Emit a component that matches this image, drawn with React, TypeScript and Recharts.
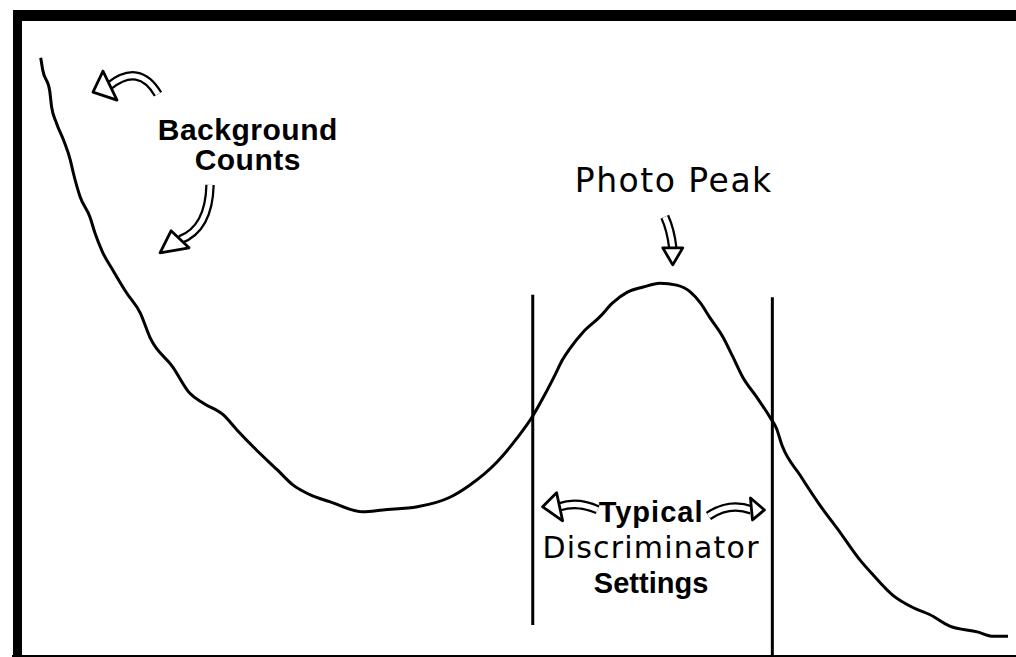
import React from 'react';
import { ComposedChart, Line, XAxis, YAxis, ReferenceLine, ReferenceDot } from 'recharts';

// pulse height spectrum (channel 0-1000, counts 0-1000)
const channel = [
  19, 21, 28, 30, 35, 42, 49, 52, 59, 69, 74, 82, 92, 106, 120, 130, 153, 170, 184, 204,
  218, 238, 259, 275, 292, 312, 346, 366, 401, 434, 454, 482, 502, 518, 530, 541, 548, 556,
  569, 586, 599, 614, 630, 647, 664, 678, 688, 698, 711, 721, 731, 745, 759, 765, 771, 789,
  809, 830, 850, 863, 883, 904, 921, 941, 969, 985, 1000,
];
const counts = [
  942, 923, 891, 865, 839, 813, 781, 761, 723, 691, 666, 635, 608, 572, 540, 501, 455, 414, 398, 380,
  356, 324, 293, 269, 254, 243, 227, 230, 235, 250, 269, 306, 343, 378, 411, 444, 466, 485,
  510, 534, 556, 573, 581, 587, 584, 573, 556, 532, 502, 471, 439, 408, 375, 359, 331, 285,
  238, 194, 151, 128, 96, 76, 65, 47, 38, 31, 31,
];

// discriminator window
const lowerLevel = 518;
const upperLevel = 761;
const lowerSpan = [49, 569];
const upperSpan = [0, 565];

const data = channel.map((c, i) => ({ channel: c, counts: counts[i] }));

const BOLD = '"Liberation Sans", Arial, sans-serif';
const PLAIN = '"DejaVu Sans", sans-serif';

// hollow hand-drawn style arrows, offsets relative to the tip
const arrows = [
  { ch: 72, cnt: 888, shaft: 'M16,-6 Q46,-30 65,2', head: '10,-21 0,0 24,8' },
  { ch: 140, cnt: 635, shaft: 'M20,-13 Q49,-24 50,-68', head: '11,-22 0,0 29,-5' },
  { ch: 660, cnt: 616, shaft: 'M0,-17 Q-2,-35 -8,-48', head: '-10,-17 0,0 10,-17' },
  { ch: 528, cnt: 235, shaft: 'M17,0 Q35,-6 55,3', head: '14,-14 0,0 20,14' },
  { ch: 753, cnt: 230, shaft: 'M-13,0 Q-35,-8 -56,6', head: '-14,-12 0,0 -12,10' },
];

const arrowShape = (shaft: string, head: string) => (p: any) => (
  <g transform={`translate(${p.cx},${p.cy})`}>
    <path d={shaft} fill="none" stroke="#000" strokeWidth={9.5} />
    <path d={shaft} fill="none" stroke="#fff" strokeWidth={5} />
    <polygon points={head} fill="#fff" stroke="#000" strokeWidth={2.8} strokeLinejoin="round" />
  </g>
);

type Row = { t: string; font: string; bold: boolean; dy: number; size: number; ls: number };

const textShape = (lines: Row[]) => (p: any) => (
  <g>
    {lines.map((l, i) => (
      <text
        key={i}
        x={p.cx}
        y={p.cy + l.dy}
        textAnchor="middle"
        fontFamily={l.font}
        fontWeight={l.bold ? 700 : 400}
        fontSize={l.size}
        letterSpacing={l.ls}
        fill="#000"
      >
        {l.t}
      </text>
    ))}
  </g>
);

export default function App() {
  return (
    <div style={{ position: 'absolute', left: 0, top: 0, width: 1016, height: 657, background: '#fff' }}>
      <div style={{ position: 'absolute', left: 13, top: 10, width: 1003, height: 11, background: '#000' }} />
      <div style={{ position: 'absolute', left: 13, top: 10, width: 9, height: 646, background: '#000' }} />
      <div style={{ position: 'absolute', left: 12, top: 655, width: 1004, height: 2, background: '#000' }} />
      <div style={{ position: 'absolute', left: 22, top: 21 }}>
        <ComposedChart width={994} height={635} data={data} margin={{ top: 0, right: 8, bottom: 0, left: 0 }}>
          <XAxis type="number" dataKey="channel" domain={[0, 1000]} hide />
          <YAxis type="number" domain={[0, 1000]} hide />
          <ReferenceLine
            segment={[{ x: lowerLevel, y: lowerSpan[0] }, { x: lowerLevel, y: lowerSpan[1] }]}
            stroke="#000"
            strokeWidth={3}
          />
          <ReferenceLine
            segment={[{ x: upperLevel, y: upperSpan[0] }, { x: upperLevel, y: upperSpan[1] }]}
            stroke="#000"
            strokeWidth={3}
          />
          <Line
            type="monotone"
            dataKey="counts"
            stroke="#000"
            strokeWidth={3}
            dot={false}
            isAnimationActive={false}
          />
          {arrows.map((a, i) => (
            <ReferenceDot key={i} x={a.ch} y={a.cnt} r={0} shape={arrowShape(a.shaft, a.head)} />
          ))}
          <ReferenceDot
            x={229}
            y={813}
            r={0}
            shape={textShape([
              { t: 'Background', font: BOLD, bold: true, dy: 0, size: 30, ls: 0.5 },
              { t: 'Counts', font: BOLD, bold: true, dy: 30, size: 30, ls: 0.5 },
            ])}
          />
          <ReferenceDot
            x={661}
            y={731}
            r={0}
            shape={textShape([{ t: 'Photo Peak', font: PLAIN, bold: false, dy: 0, size: 33, ls: 1.5 }])}
          />
          <ReferenceDot
            x={638}
            y={211}
            r={0}
            shape={textShape([
              { t: 'Typical', font: BOLD, bold: true, dy: 0, size: 29, ls: 1 },
              { t: 'Discriminator', font: PLAIN, bold: false, dy: 36, size: 30, ls: 1.2 },
              { t: 'Settings', font: BOLD, bold: true, dy: 71, size: 29, ls: 0 },
            ])}
          />
        </ComposedChart>
      </div>
    </div>
  );
}
